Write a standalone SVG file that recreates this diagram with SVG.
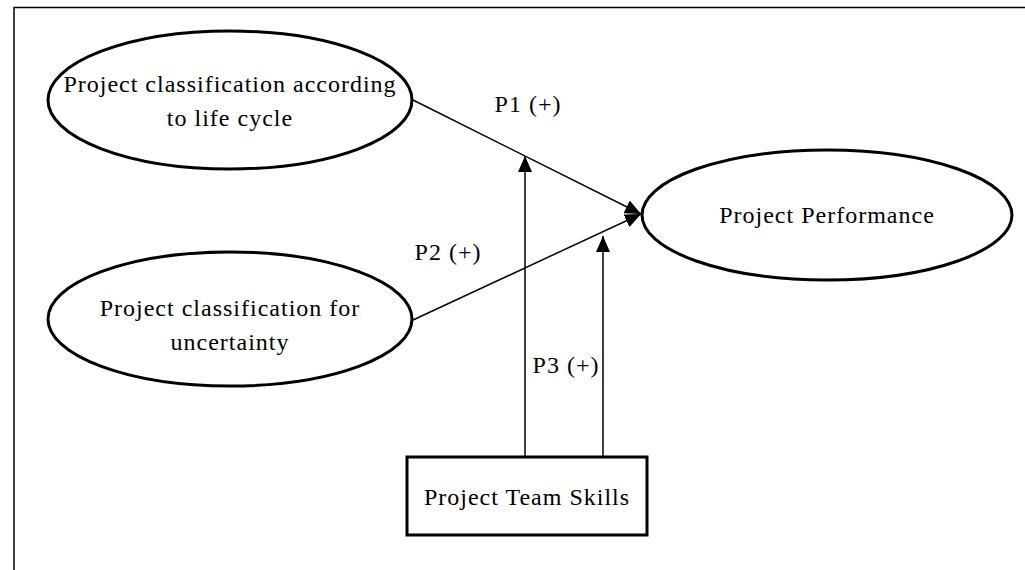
<svg xmlns="http://www.w3.org/2000/svg" width="1025" height="570" viewBox="0 0 1025 570">
<style>
text{font-family:"Liberation Serif","Times New Roman",serif;font-size:24px;letter-spacing:1px;fill:#000;text-anchor:middle}
.node{fill:#fff;stroke:#000;stroke-width:3}
.c{stroke:#000;stroke-width:1.5;fill:none}
</style>
<defs>
<marker id="ah" viewBox="0 0 10 10" refX="10" refY="5" markerWidth="16" markerHeight="14" markerUnits="userSpaceOnUse" orient="auto" preserveAspectRatio="none">
<path d="M0,0 L10,5 L0,10 Z" fill="#000"/>
</marker>
</defs>
<rect x="0" y="0" width="1025" height="570" fill="#fff"/>
<path d="M14,570 V7.5 H1025" fill="none" stroke="#000" stroke-width="1.5"/>
<g id="connectors">
<line class="c" x1="413" y1="100" x2="641" y2="214" marker-end="url(#ah)"/>
<line class="c" x1="413" y1="320" x2="641" y2="214" marker-end="url(#ah)"/>
<line class="c" x1="525" y1="457" x2="525" y2="156" marker-end="url(#ah)"/>
<line class="c" x1="603" y1="457" x2="603" y2="236" marker-end="url(#ah)"/>
<text x="528" y="112">P1 (+)</text>
<text x="448" y="260">P2 (+)</text>
<text x="566" y="373">P3 (+)</text>
</g>
<g id="n1">
<ellipse class="node" cx="230" cy="100" rx="182" ry="69"/>
<text x="230" y="92">Project classification according</text>
<text x="230" y="126">to life cycle</text>
</g>
<g id="n2">
<ellipse class="node" cx="230" cy="319" rx="182" ry="67"/>
<text x="230" y="316">Project classification for</text>
<text x="230" y="350">uncertainty</text>
</g>
<g id="n3">
<ellipse class="node" cx="827" cy="215" rx="185" ry="65"/>
<text x="827" y="223">Project Performance</text>
</g>
<g id="n4">
<rect class="node" x="407" y="457" width="240" height="78"/>
<text x="527" y="505">Project Team Skills</text>
</g>
</svg>
